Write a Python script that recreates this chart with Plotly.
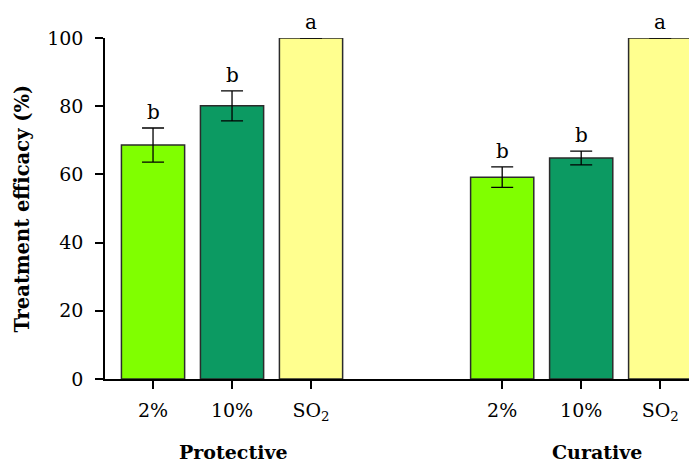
import plotly.graph_objects as go

# ---- data ----
groups = ["Protective", "Curative"]
treatments = ["2%", "10%", "SO<sub>2</sub>"]
protective_mean = [68.6, 80.1, 100.0]
protective_err = [5.0, 4.4, 0.0]
curative_mean = [59.2, 64.8, 100.0]
curative_err = [3.0, 2.0, 0.0]
letters_protective = ["b", "b", "a"]
letters_curative = ["b", "b", "a"]
y_ticks = [0, 20, 40, 60, 80, 100]

# ---- style / layout ----
colors = ["#80FF00", "#0C9A62", "#FFFF8F"]
GROUP_STEP = 4.42
group_label_offset = [0.02, 0.2]
FONT = "DejaVu Serif"

means = [protective_mean, curative_mean]
errs = [protective_err, curative_err]
letters = [letters_protective, letters_curative]

fig = go.Figure()
tickvals, ticktext = [], []
annotations = []
for g, gname in enumerate(groups):
    xs = [i + g * GROUP_STEP for i in range(len(treatments))]
    tickvals += xs
    ticktext += treatments
    fig.add_trace(go.Bar(
        x=xs, y=means[g], width=0.8,
        marker=dict(color=colors, line=dict(color="#2b2b2b", width=1.5)),
        error_y=dict(type="data", array=errs[g], visible=True,
                     color="black", thickness=1.3, width=11),
        showlegend=False, cliponaxis=False,
    ))
    for x, m, e, lt in zip(xs, means[g], errs[g], letters[g]):
        annotations.append(dict(x=x, y=m + e, xref="x", yref="y", text=lt,
                                showarrow=False, yanchor="bottom", yshift=2,
                                font=dict(family=FONT, size=20, color="black")))
    annotations.append(dict(x=xs[1] + group_label_offset[g], y=0, xref="x", yref="paper",
                            yshift=-73, text="<b>%s</b>" % gname, showarrow=False,
                            yanchor="middle",
                            font=dict(family=FONT, size=19, color="black")))

annotations.append(dict(x=0, y=0.5, xref="paper", yref="paper", xshift=-83,
                        text="<b>Treatment efficacy (%)</b>", textangle=-90,
                        showarrow=False, xanchor="center",
                        font=dict(family=FONT, size=19.5, color="black")))

# page body has an 8px margin: the figure is shrunk by that amount
fig.update_layout(
    width=689, height=455,
    margin=dict(l=97, r=0, t=30, b=84),
    plot_bgcolor="white", paper_bgcolor="white",
    annotations=annotations,
    xaxis=dict(range=[-0.608, 6.886], tickvals=tickvals, ticktext=ticktext,
               showline=True, linecolor="black", linewidth=1.5,
               ticks="outside", ticklen=8, tickwidth=1.5, tickcolor="black",
               showgrid=False, zeroline=False, ticklabelstandoff=5,
               tickfont=dict(family=FONT, size=19, color="black")),
    yaxis=dict(range=[0, 100], tickvals=y_ticks,
               showline=True, linecolor="black", linewidth=1.5,
               ticks="outside", ticklen=8, tickwidth=1.5, tickcolor="black",
               showgrid=False, zeroline=False, ticklabelstandoff=8,
               tickfont=dict(family=FONT, size=19, color="black")),
)

fig.write_html("out.html")
